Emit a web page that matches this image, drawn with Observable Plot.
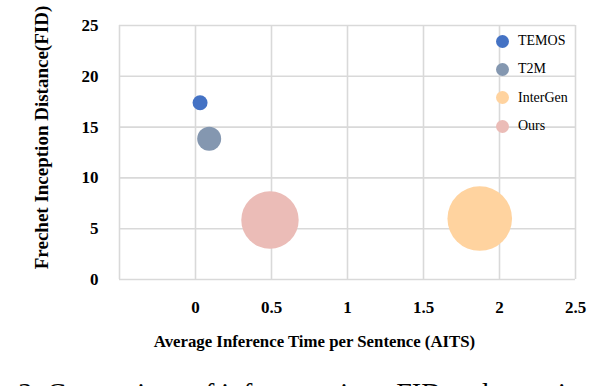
<!DOCTYPE html>
<html>
<head>
<meta charset="utf-8">
<script src="https://cdn.jsdelivr.net/npm/d3@7"></script>
<script src="https://cdn.jsdelivr.net/npm/@observablehq/plot@0.6"></script>
<style>
  html, body { margin: 0; padding: 0; background: #fff; overflow: hidden; width: 606px; height: 386px; }
  #wrap { position: relative; width: 606px; height: 386px; font-family: "Liberation Serif", serif; }
  #legend { position: absolute; left: 496px; top: 27px; font-size: 14px; color: #000; }
  .item { display: flex; align-items: center; height: 28.3px; }
  .sw { width: 13px; height: 13px; border-radius: 50%; margin-right: 9px; }
  #caption { position: absolute; left: -33px; top: 379px; font-size: 28px; line-height: 28px; white-space: nowrap; color: #000; }
</style>
</head>
<body>
<div id="wrap"></div>
<script>
const models = ["TEMOS", "T2M", "InterGen", "Ours"];
const aits = [0.03, 0.09, 1.87, 0.49];
const fid = [17.4, 13.85, 6.0, 5.85];
const quantity = [5.4, 13.8, 100, 79];
const colors = ["#4472C4", "#8497B0", "#FFD39F", "#EBBCB7"];
const xTicks = [0, 0.5, 1, 1.5, 2, 2.5];
const yTicks = [0, 5, 10, 15, 20, 25];
const xTitle = "Average Inference Time per Sentence (AITS)";
const yTitle = "Frechet Inception Distance(FID)";
const caption = "Fig. 3: Comparison of inference time, FID and quantity";

const data = models.map((m, i) => ({model: m, aits: aits[i], fid: fid[i], q: quantity[i]}));
const grid = {stroke: "#D9D9D9", strokeOpacity: 1, strokeWidth: 1.6};

const chart = Plot.plot({
  width: 606,
  height: 358,
  marginLeft: 119,
  marginRight: 31,
  marginTop: 25,
  marginBottom: 79,
  x: {domain: [-0.5, 2.5]},
  y: {domain: [0, 25]},
  r: {type: "sqrt", domain: [0, 100], range: [0, 32.3]},
  color: {domain: models, range: colors},
  style: {fontFamily: "Liberation Serif", fontSize: "16px", fontWeight: "bold", color: "#000", background: "#fff"},
  marks: [
    Plot.gridX([-0.5, ...xTicks], grid),
    Plot.gridY(yTicks, grid),
    Plot.axisX(xTicks, {tickSize: 0, tickPadding: 21, label: null, tickFormat: d => String(d), fontSize: 17}),
    Plot.axisY(yTicks, {tickSize: 0, tickPadding: 21, label: null, fontSize: 17}),
    Plot.dot(data, {x: "aits", y: "fid", r: "q", fill: "model", stroke: "none", fillOpacity: 1}),
    Plot.text([xTitle], {text: d => d, frameAnchor: "bottom", textAnchor: "middle", lineAnchor: "middle", dx: -33, dy: 62, fontSize: 16.8, fontWeight: "bold"}),
    Plot.text([yTitle], {text: d => d, frameAnchor: "left", textAnchor: "middle", lineAnchor: "middle", rotate: -90, dx: -78, dy: -15, fontSize: 19, fontWeight: "bold"})
  ]
});

const wrap = document.getElementById("wrap");
wrap.appendChild(chart);

const legend = document.createElement("div");
legend.id = "legend";
models.forEach((m, i) => {
  const it = document.createElement("div");
  it.className = "item";
  const sw = document.createElement("span");
  sw.className = "sw";
  sw.style.background = colors[i];
  const lb = document.createElement("span");
  lb.textContent = m;
  it.appendChild(sw);
  it.appendChild(lb);
  legend.appendChild(it);
});
wrap.appendChild(legend);

const cap = document.createElement("div");
cap.id = "caption";
cap.textContent = caption;
wrap.appendChild(cap);
</script>
</body>
</html>
